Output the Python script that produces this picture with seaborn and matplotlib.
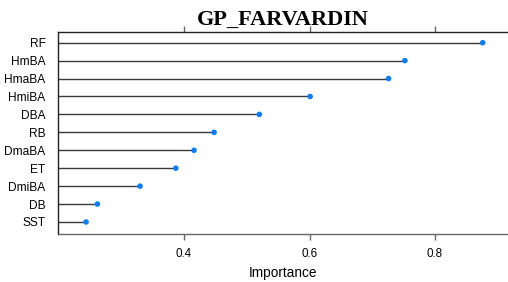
import pandas as pd
import matplotlib.pyplot as plt
import seaborn as sns

sns.set_theme(style="white")
plt.rcParams["font.family"] = ["Liberation Sans", "DejaVu Sans"]
plt.rcParams["text.color"] = "black"
plt.rcParams["axes.labelcolor"] = "black"
plt.rcParams["xtick.color"] = "#666666"
plt.rcParams["xtick.labelcolor"] = "black"
plt.rcParams["ytick.labelcolor"] = "black"

features = ["RF", "HmBA", "HmaBA", "HmiBA", "DBA", "RB", "DmaBA", "ET", "DmiBA", "DB", "SST"]
importance = [0.876, 0.752, 0.726, 0.601, 0.520, 0.448, 0.416, 0.387, 0.330, 0.262, 0.244]
x_ticks = [0.4, 0.6, 0.8]

df = pd.DataFrame({"feature": features, "importance": importance})
df["pos"] = range(len(df))

fig = plt.figure(figsize=(5.08, 2.82), dpi=100)
ax = fig.add_axes([58 / 508, 48 / 282, 450 / 508, 201.7 / 282])

ax.hlines(y=df["pos"], xmin=0, xmax=df["importance"], color="#3a3a3a", linewidth=1.0)
sns.scatterplot(data=df, x="importance", y="pos", color="#0a7cff", marker="o",
                s=16, edgecolor="none", ax=ax, zorder=3)

ax.set_xlim(0.1992, 0.9163)
ax.set_ylim(10.67, -0.58)
ax.set_yticks(df["pos"])
ax.set_yticklabels(features, fontsize=8.6)
ax.set_xticks(x_ticks)
ax.set_xticklabels([f"{t:.1f}" for t in x_ticks], fontsize=8.4)
ax.tick_params(axis="x", which="both", bottom=True, top=True, labeltop=False,
               direction="out", length=4, width=1, pad=6)
ax.tick_params(axis="y", left=False, pad=3)

for side in ["left", "top"]:
    ax.spines[side].set_color("#222222")
    ax.spines[side].set_linewidth(1)
ax.spines["bottom"].set_color("#666666")
ax.spines["bottom"].set_linewidth(1)
ax.spines["right"].set_visible(False)

ax.set_xlabel("")
ax.set_ylabel("")
fig.text(283 / 508, 1 - 273 / 282, "Importance", ha="center", va="center",
         fontsize=9.8, color="black")
fig.text(0.557, 0.912, "GP_FARVARDIN", ha="center", va="baseline", color="black",
         fontsize=16, fontweight="bold", family=["Liberation Serif", "DejaVu Serif"])

fig.savefig("out.png", dpi=100)
